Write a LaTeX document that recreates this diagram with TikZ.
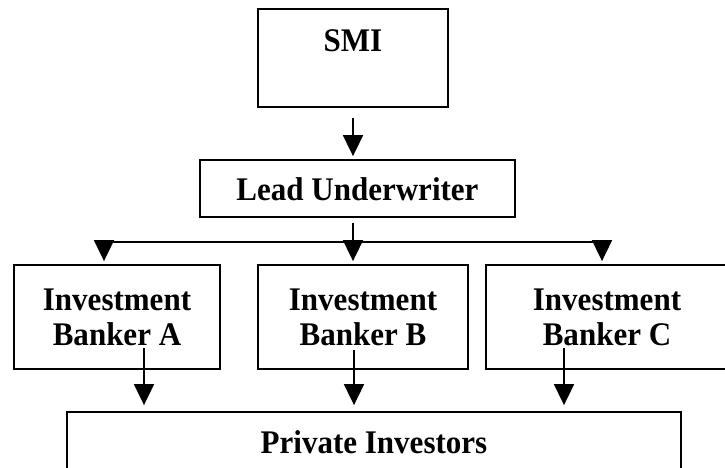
\documentclass[tikz,border=0pt]{standalone}
\usepackage{fontspec}
\setmainfont[FakeStretch=0.94]{Liberation Serif}
\usetikzlibrary{arrows.meta}
\begin{document}
\begin{tikzpicture}[x=1pt,y=-1pt,
  box/.style={draw, line width=1.8pt, inner sep=0pt, font=\fontsize{33}{35}\selectfont\bfseries, align=center},
  conn/.style={line width=1.8pt},
  arr/.style={conn, -{Triangle[width=20pt,length=21pt]}}]
\useasboundingbox (0,0) rectangle (725,468);
\clip (0,0) rectangle (725,468);
% boxes
\node[box, minimum width=190pt, minimum height=98pt, text height=22pt, text depth=34pt] (smi) at (353,58) {SMI};
\node[box, minimum width=315pt, minimum height=57pt, text height=23pt, text depth=0pt] (lead) at (357.5,188.5) {Lead Underwriter};
\node[box, minimum width=206pt, minimum height=104pt] (bA) at (117,317) {Investment\\Banker A};
\node[box, minimum width=210pt, minimum height=104pt] (bB) at (363,317) {Investment\\Banker B};
\node[box, minimum width=242pt, minimum height=104pt] (bC) at (607,317) {Investment\\Banker C};
\node[box, minimum width=614pt, minimum height=61pt, text height=22pt, text depth=0pt] (priv) at (374,442.5) {Private Investors};
% connectors
\draw[arr, shorten <=10pt, shorten >=3pt] (smi.south) -- (smi.south |- lead.north);
\coordinate (ja) at (104,242);
\coordinate (jb) at (353,242);
\coordinate (jc) at (602,242);
\draw[conn, shorten <=5pt] (lead.south -| jb) -- (jb);
\draw[conn] (ja) -- (jc);
\draw[arr, shorten >=3pt] (ja) -- (ja |- bA.north);
\draw[arr, shorten >=3pt] (jb) -- (jb |- bB.north);
\draw[arr, shorten >=3pt] (jc) -- (jc |- bC.north);
\coordinate (sa) at (144,348);
\coordinate (sb) at (354,350);
\coordinate (sc) at (564,348);
\draw[arr, shorten >=6pt] (sa) -- (sa |- priv.north);
\draw[arr, shorten >=6pt] (sb) -- (sb |- priv.north);
\draw[arr, shorten >=6pt] (sc) -- (sc |- priv.north);
\end{tikzpicture}
\end{document}
